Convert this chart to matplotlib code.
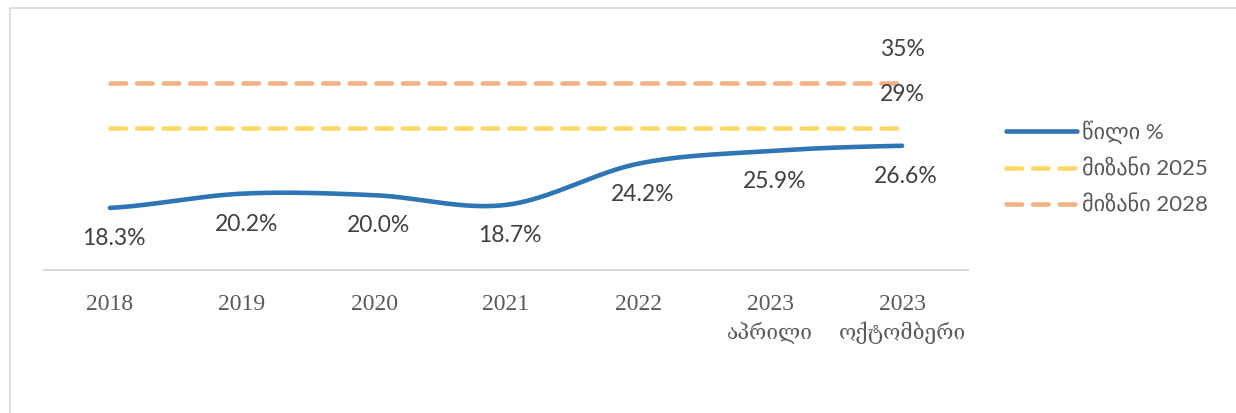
import numpy as np
import matplotlib
matplotlib.use("Agg")
import matplotlib.pyplot as plt
from matplotlib.patches import Rectangle
from matplotlib.transforms import blended_transform_factory, offset_copy

categories = ["2018", "2019", "2020", "2021", "2022", "2023\nაპრილი", "2023\nოქტომბერი"]
share = [18.3, 20.2, 20.0, 18.7, 24.2, 25.9, 26.6]
target_2025 = [29] * 7
target_2028 = [35] * 7
series_names = ["წილი %", "მიზანი 2025", "მიზანი 2028"]

BLUE = "#2E75B6"
YELLOW = "#FFD966"
ORANGE = "#F4B183"

SANS = ["Lato", "DejaVu Sans"]
SERIF = ["Liberation Serif", "DejaVu Serif", "DejaVu Sans"]


def smooth(xs, ys, n=40):
    xs = np.asarray(xs, float)
    ys = np.asarray(ys, float)
    px = np.concatenate([[2 * xs[0] - xs[1]], xs, [2 * xs[-1] - xs[-2]]])
    py = np.concatenate([[ys[0]], ys, [ys[-1]]])
    ox, oy = [], []
    for i in range(1, len(px) - 2):
        p0 = np.array([px[i], py[i]])
        p3 = np.array([px[i + 1], py[i + 1]])
        c1 = p0 + (np.array([px[i + 1], py[i + 1]]) - np.array([px[i - 1], py[i - 1]])) / 6
        c2 = p3 - (np.array([px[i + 2], py[i + 2]]) - np.array([px[i], py[i]])) / 6
        t = np.linspace(0, 1, n)[:, None]
        b = (1 - t) ** 3 * p0 + 3 * (1 - t) ** 2 * t * c1 + 3 * (1 - t) * t ** 2 * c2 + t ** 3 * p3
        ox.extend(b[:, 0])
        oy.extend(b[:, 1])
    return np.array(ox), np.array(oy)


fig = plt.figure(figsize=(12.36, 4.13), dpi=100)
fig.patches.append(Rectangle((10 / 1236, -0.1), 1.2, 1 - 8 / 413 + 0.1,
                             transform=fig.transFigure, fill=False,
                             edgecolor="#D9D9D9", linewidth=1.2, zorder=0))

ax = fig.add_axes([44 / 1236, 1 - 270 / 413, (968 - 44) / 1236, (270 - 45.5) / 413])
x = np.arange(len(categories))

sx, sy = smooth(x, share)
ax.plot(sx, sy, color=BLUE, lw=3.3, solid_capstyle="round", label=series_names[0], zorder=3)
ax.plot(x, target_2025, color=YELLOW, lw=3.3, dashes=(3.4, 2.4), dash_capstyle="round",
        label=series_names[1], zorder=2)
ax.plot(x, target_2028, color=ORANGE, lw=3.3, dashes=(3.4, 2.4), dash_capstyle="round",
        label=series_names[2], zorder=2)

LBL = 16.5
for xi, v in zip(x, share):
    ax.annotate(f"{v:.1f}%", (xi, v), xytext=(3, -22), textcoords="offset points",
                ha="center", va="center", fontsize=LBL, color="#404040", family=SANS)
ax.annotate(f"{target_2025[-1]}%", (x[-1], target_2025[-1]), xytext=(0, 24),
            textcoords="offset points", ha="center", va="center", fontsize=LBL,
            color="#404040", family=SANS)
ax.annotate(f"{target_2028[-1]}%", (x[-1], target_2028[-1]), xytext=(0, 24),
            textcoords="offset points", ha="center", va="center", fontsize=LBL,
            color="#404040", family=SANS)

ax.set_xlim(-0.5, len(categories) - 0.5)
ax.set_ylim(10, 40)
ax.set_xticks(x)
first_lines = [c.split("\n")[0] for c in categories]
ax.set_xticklabels(first_lines, family=SERIF, fontsize=17, color="#595959")
ax.tick_params(axis="x", length=0, pad=17)
# second lines of the category labels (month names), slightly smaller
btrans = blended_transform_factory(ax.transData, ax.transAxes)
for xi, c in zip(x, categories):
    parts = c.split("\n")
    if len(parts) > 1:
        ax.text(xi, 0, parts[1], transform=offset_copy(btrans, fig=fig, x=0, y=-63, units="dots"),
                ha="center", va="center", fontsize=15, color="#595959", family=SERIF)
ax.set_yticks([])
for s in ["top", "left", "right"]:
    ax.spines[s].set_visible(False)
ax.spines["bottom"].set_color("#D9D9D9")
ax.spines["bottom"].set_linewidth(1.5)
ax.patch.set_alpha(0)

leg = fig.legend(loc="upper left", bbox_to_anchor=(986 / 1236, 1 - 100 / 413),
                 frameon=False, handlelength=3.2, handletextpad=0.2, labelspacing=0.72,
                 prop={"family": SANS, "size": 16})
for t in leg.get_texts():
    t.set_color("#595959")

fig.savefig("out.png", dpi=100)
